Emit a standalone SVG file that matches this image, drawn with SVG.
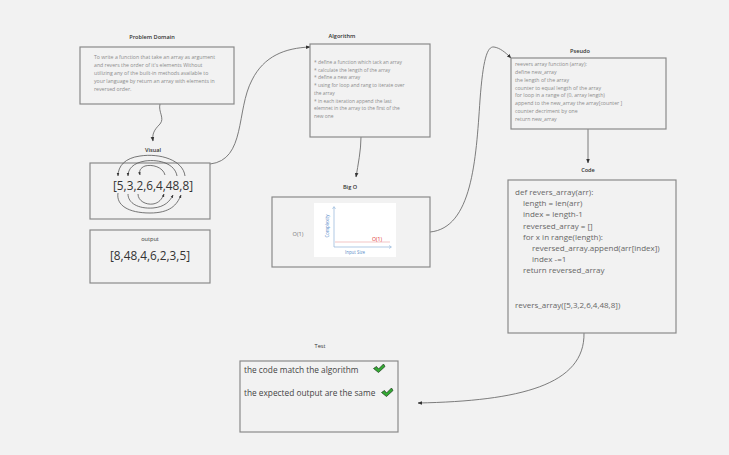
<svg xmlns="http://www.w3.org/2000/svg" width="729" height="455" viewBox="0 0 729 455">
<style>
text{font-family:"Open Sans","Liberation Sans",sans-serif}
.box{fill:#f2f2f2;stroke:#8a8a8a;stroke-width:1.2}
.title{font-size:5.6px;font-weight:600;fill:#333;text-anchor:middle}
.small{font-size:5.2px;fill:#8c8c8c}
.code{font-size:8px;fill:#666}
.big{font-size:11.8px;fill:#333;text-anchor:middle}
.conn{fill:none;stroke:#6e6e6e;stroke-width:0.9}
.vis{fill:none;stroke:#555;stroke-width:0.8}
</style>
<defs>
<marker id="ah" viewBox="0 0 10 10" refX="9" refY="5" markerWidth="5" markerHeight="5" orient="auto">
<path d="M0,1 L10,5 L0,9 z" fill="#333"/>
</marker>
<marker id="ahs" viewBox="0 0 10 10" refX="9" refY="5" markerWidth="4" markerHeight="4" orient="auto">
<path d="M0,1 L10,5 L0,9 z" fill="#333"/>
</marker>
</defs>
<rect width="729" height="455" fill="#f2f2f2"/>

<g id="connectors">
<path class="conn" d="M160,104 C158,112 165,118 160,124 C154,130 152,134 153,141" marker-end="url(#ah)"/>
<path class="conn" d="M210,164 C246,160 236,110 252,80 C264,56 285,48 310,47" marker-end="url(#ah)"/>
<path class="conn" d="M361,137 C361,150 358,165 356,177" marker-end="url(#ah)"/>
<path class="conn" d="M430,232 C472,228 476,160 480,100 C483,60 487,46 494,47 C500,48 505,52 511,58" marker-end="url(#ah)"/>
<path class="conn" d="M588,129 L588,163" marker-end="url(#ah)"/>
<path class="conn" d="M584,333 C585,385 520,401 418,403" marker-end="url(#ah)"/>
</g>

<g id="problem-domain">
<text class="title" x="152" y="39">Problem Domain</text>
<rect class="box" x="80" y="47" width="154" height="57"/>
<text class="small" x="94" y="59">To write a function that take an array as argument</text>
<text class="small" x="94" y="67">and revers the order of it's elements Without</text>
<text class="small" x="94" y="75">utilizing any of the built-in methods available to</text>
<text class="small" x="94" y="83">your language by return an array with elements in</text>
<text class="small" x="94" y="91">reversed order.</text>
</g>

<g id="algorithm">
<text class="title" x="342" y="38">Algorithm</text>
<rect class="box" x="310" y="44" width="120" height="93"/>
<g class="small" style="font-size:4.9px">
<text x="314" y="64">*  define a function which tack an array</text>
<text x="314" y="71.5">* calculate the length of the array</text>
<text x="314" y="79">* define a new array</text>
<text x="314" y="87">*  using for loop and rang to iterate over</text>
<text x="314" y="94.5">the array</text>
<text x="314" y="102.5">* in each iteration append the last</text>
<text x="314" y="110">elemnet in the array to the first of the</text>
<text x="314" y="117.5">new one</text>
</g>
</g>

<g id="pseudo">
<text class="title" x="580" y="53">Pseudo</text>
<rect class="box" x="511" y="58" width="155" height="71"/>
<g class="small">
<text x="515" y="66">reevers array function (array):</text>
<text x="515" y="74">define new_array</text>
<text x="515" y="82">the length of the array</text>
<text x="515" y="89.5">counter to equal  length of the array</text>
<text x="515" y="97">for loop in a range of (0, array length)</text>
<text x="515" y="104.5">append to the new_array the array[counter ]</text>
<text x="515" y="112.5">counter decriment by one</text>
<text x="515" y="120.5">return new_array</text>
</g>
</g>

<g id="visual">
<text class="title" x="153" y="152">Visual</text>
<rect class="box" x="90" y="163" width="120" height="56"/>
<text class="big" x="153" y="190">[5,3,2,6,4,48,8]</text>
<path class="vis" d="M185,176 C183,160 160,153 140,156 C125,158 118,166 118,176" marker-end="url(#ahs)"/>
<path class="vis" d="M177,176 C175,164 160,159 145,161 C133,163 128,169 128,176" marker-end="url(#ahs)"/>
<path class="vis" d="M165,175 C163,167 152,164 145,166 C140,168 139,171 140,175" marker-end="url(#ahs)"/>
<path class="vis" d="M118,193 C116,205 128,213 150,213 C170,213 177,205 181,195" marker-end="url(#ahs)"/>
<path class="vis" d="M128,194 C128,203 138,209 153,208 C165,207 170,201 173,195" marker-end="url(#ahs)"/>
<path class="vis" d="M138,194 C138,201 146,205 153,204 C159,203 162,199 164,194" marker-end="url(#ahs)"/>
</g>

<g id="output">
<rect class="box" x="90" y="230" width="120" height="53"/>
<text class="title" x="150" y="241" style="font-weight:400">output</text>
<text class="big" x="150" y="260">[8,48,4,6,2,3,5]</text>
</g>

<g id="big-o">
<text class="title" x="350" y="189">Big O</text>
<rect class="box" x="272" y="197" width="158" height="70"/>
<text class="small" x="298" y="236" style="font-size:5.6px;fill:#777;text-anchor:middle">O(1)</text>
<rect x="314" y="203" width="82" height="54" fill="#ffffff"/>
<line x1="334" y1="207" x2="334" y2="247" stroke="#8fb3d9" stroke-width="0.7"/>
<line x1="334" y1="247" x2="391" y2="247" stroke="#8fb3d9" stroke-width="0.7"/>
<path d="M332.5,209 L334,206.5 L335.5,209" fill="none" stroke="#8fb3d9" stroke-width="0.6"/>
<path d="M389,245.5 L391.5,247 L389,248.5" fill="none" stroke="#8fb3d9" stroke-width="0.6"/>
<line x1="335" y1="242" x2="390" y2="242" stroke="#f4c6c6" stroke-width="1.2"/>
<text x="377" y="240.5" style="font-size:5.2px;fill:#e03030;text-anchor:middle">O(1)</text>
<text x="355" y="254" style="font-size:4.4px;fill:#5b8cc9;text-anchor:middle">Input Size</text>
<text x="0" y="0" transform="translate(329,226) rotate(-90)" style="font-size:4.4px;fill:#5b8cc9;text-anchor:middle">Complexity</text>
</g>

<g id="code">
<text class="title" x="588" y="172">Code</text>
<rect class="box" x="508" y="180" width="168" height="153"/>
<g class="code">
<text x="515" y="195">def revers_array(arr):</text>
<text x="523" y="206">length = len(arr)</text>
<text x="523" y="217">index = length-1</text>
<text x="523" y="229">reversed_array = []</text>
<text x="523" y="240">for x in range(length):</text>
<text x="532" y="251">reversed_array.append(arr[index])</text>
<text x="532" y="262">index -=1</text>
<text x="523" y="273">return reversed_array</text>
<text x="515" y="308">revers_array([5,3,2,6,4,48,8])</text>
</g>
</g>

<g id="test">
<text class="title" x="320" y="348" style="font-weight:400">Test</text>
<rect class="box" x="240" y="361" width="158" height="71"/>
<text x="244" y="373" style="font-size:8.3px;fill:#444">the code match the algorithm</text>
<text x="244" y="396" style="font-size:8.3px;fill:#444">the expected output are the same</text>
<path d="M373.5,368.5 L376.5,366.5 L378.5,369 L383.5,364 L385,366.5 L378.5,372.5 Z" fill="#33aa33" stroke="#1a3a1a" stroke-width="0.7"/>
<path d="M381.5,392.5 L384.5,390.5 L386.5,393 L391.5,388 L393,390.5 L386.5,396.5 Z" fill="#33aa33" stroke="#1a3a1a" stroke-width="0.7"/>
</g>
</svg>
